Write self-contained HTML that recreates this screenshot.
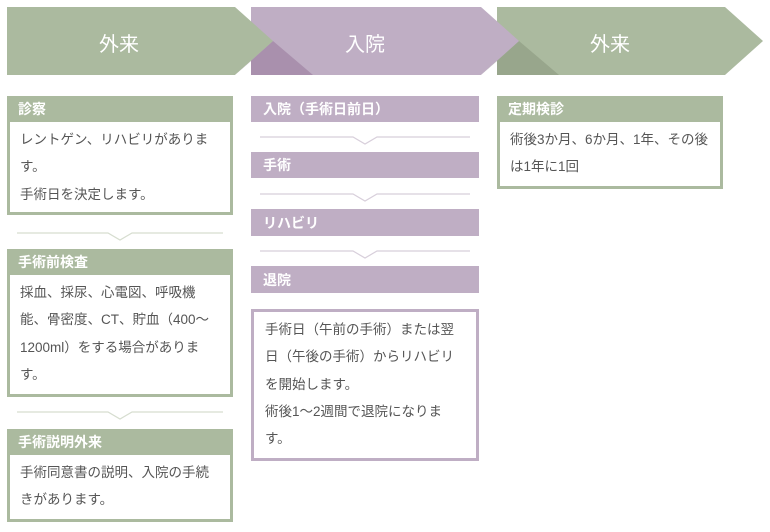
<!DOCTYPE html>
<html><head><meta charset="utf-8"><style>
body{margin:0;width:770px;height:532px;background:#fff;position:relative;font-family:"Liberation Sans","Noto Sans CJK JP",sans-serif;overflow:hidden}
.a{position:absolute}
.hd{position:absolute;color:#fff;font-size:14px;font-weight:bold;padding-left:11px;box-sizing:border-box;display:flex;align-items:center}
.g{background:#abba9f}.p{background:#bfaec4}
.bd{position:absolute;background:#fff;box-sizing:border-box;font-size:13.5px;color:#555;line-height:27.3px;padding:4px 10px;white-space:nowrap}
.bg{border:3px solid #abba9f;border-top:none}
.bp{border:3px solid #bfaec4}
.t{position:absolute;color:#fff;font-size:20px;top:28px}
</style></head><body>
<svg class="a" style="left:0;top:0" width="770" height="532">
<polygon points="497,7 725,7 763,41 725,75 497,75" fill="#abba9f"/>
<polygon points="519,41 559,75 481,75" fill="#98a68c"/>
<polygon points="251,7 481,7 519,41 481,75 251,75" fill="#bfaec4"/>
<polygon points="273,41 313,75 235,75" fill="#a990ad"/>
<polygon points="7,7 235,7 273,41 235,75 7,75" fill="#abba9f"/>
<polygon points="481,75 497,61 497,75" fill="#fff"/>
<polygon points="235,75 251,61 251,75" fill="#fff"/>
<g fill="none" stroke-width="1.2">
<path d="M17 233H108L120 240L132 233H223" stroke="#d6ddcf"/>
<path d="M17 412H108L120 419L132 412H223" stroke="#d6ddcf"/>
<path d="M260 137H353L365 144L377 137H470" stroke="#d8cfdb"/>
<path d="M260 194H353L365 201L377 194H470" stroke="#d8cfdb"/>
<path d="M260 251H353L365 258L377 251H470" stroke="#d8cfdb"/>
</g>
</svg>
<div class="t" style="left:99px">外来</div>
<div class="t" style="left:345px">入院</div>
<div class="t" style="left:590px">外来</div>

<div class="hd g" style="left:7px;top:96px;width:226px;height:26px">診察</div>
<div class="bd bg" style="left:7px;top:122px;width:226px;height:93px">レントゲン、リハビリがありま<br>す。<br>手術日を決定します。</div>

<div class="hd g" style="left:7px;top:249px;width:226px;height:26px">手術前検査</div>
<div class="bd bg" style="left:7px;top:275px;width:226px;height:122px">採血、採尿、心電図、呼吸機<br>能、骨密度、CT、貯血（400〜<br>1200ml）をする場合がありま<br>す。</div>

<div class="hd g" style="left:7px;top:429px;width:226px;height:26px">手術説明外来</div>
<div class="bd bg" style="left:7px;top:455px;width:226px;height:67px">手術同意書の説明、入院の手続<br>きがあります。</div>

<div class="hd p" style="left:251px;top:96px;width:228px;height:26px;padding-left:12px">入院（手術日前日）</div>
<div class="hd p" style="left:251px;top:152px;width:228px;height:26px;padding-left:12px">手術</div>
<div class="hd p" style="left:251px;top:209px;width:228px;height:27px;padding-left:12px">リハビリ</div>
<div class="hd p" style="left:251px;top:266px;width:228px;height:27px;padding-left:12px">退院</div>
<div class="bd bp" style="left:251px;top:309px;width:228px;height:152px;padding-left:11px">手術日（午前の手術）または翌<br>日（午後の手術）からリハビリ<br>を開始します。<br>術後1〜2週間で退院になりま<br>す。</div>

<div class="hd g" style="left:497px;top:96px;width:226px;height:26px">定期検診</div>
<div class="bd bg" style="left:497px;top:122px;width:226px;height:67px">術後3か月、6か月、1年、その後<br>は1年に1回</div>
</body></html>
